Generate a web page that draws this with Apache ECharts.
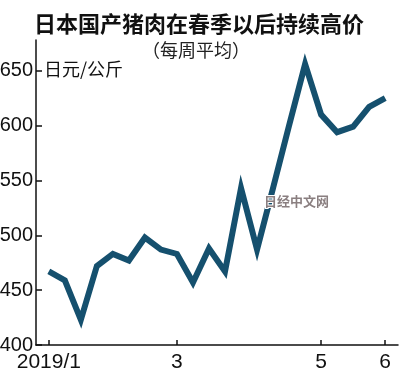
<!DOCTYPE html>
<html><head><meta charset="utf-8">
<script src="https://cdn.jsdelivr.net/npm/echarts@6/dist/echarts.min.js"></script>
<style>html,body{margin:0;padding:0;background:#fff}#c{width:400px;height:380px}</style>
</head><body><div id="c"></div>
<script>
const title = '日本国产猪肉在春季以后持续高价';
const subtitle = '（每周平均）';
const unit = '日元/公斤';
const watermark = '日经中文网';
// weekly average prices (yen/kg), Jan 2019 - Jun 2019
const prices = [467, 459, 423, 472, 483, 477, 498, 487, 483, 457, 488, 467, 543, 487, 543, 600, 656, 610, 594, 599, 617, 625];
// x tick positions (week index) and their labels
const xTickIdx = [0, 8, 17, 21];
const xTickLabels = ['2019/1', '3', '5', '6'];
const yTicks = [400, 450, 500, 550, 600, 650];

const numFont = '"Liberation Sans Narrow","Liberation Sans",sans-serif';
const cjkFont = '"Noto Sans CJK SC",sans-serif';
const chart = echarts.init(document.getElementById('c'));
chart.setOption({
  animation: false,
  backgroundColor: '#fff',
  grid: {left: 36, right: 2, top: 40, bottom: 35, containLabel: false, outerBoundsMode: 'none'},
  title: [
    {text: title, left: 29, top: 8, textStyle: {fontFamily: cjkFont, fontSize: 22, fontWeight: 'bold', color: '#111'}},
    {text: subtitle, left: 191, textAlign: 'center', top: 36, textStyle: {fontFamily: cjkFont, fontSize: 18, fontWeight: 'normal', color: '#222'}}
  ],
  graphic: [
    {type: 'text', left: 44, top: 60, style: {text: unit, font: '18px "Noto Sans CJK SC",sans-serif', fill: '#111'}},
    {type: 'text', left: 263, top: 194, z: 100, style: {text: watermark, font: 'bold 13px "Noto Sans CJK SC",sans-serif', fill: '#8a7f80', stroke: '#fff', lineWidth: 2}}
  ],
  xAxis: {
    type: 'value', min: -0.8, max: 21.8,
    axisLine: {show: true, onZero: false, lineStyle: {color: '#111', width: 1.5}},
    axisTick: {show: true, inside: true, length: 5, customValues: xTickIdx, lineStyle: {color: '#111', width: 1.5}},
    axisLabel: {show: true, customValues: xTickIdx, margin: 7, fontFamily: numFont, fontSize: 21, color: '#111',
      formatter: v => xTickLabels[xTickIdx.indexOf(Math.round(v))] || ''},
    splitLine: {show: false}
  },
  yAxis: {
    type: 'value', min: 400, max: 678,
    axisLine: {show: true, onZero: false, lineStyle: {color: '#111', width: 1.5}},
    axisTick: {show: true, inside: true, length: 6, customValues: yTicks, lineStyle: {color: '#111', width: 1.5}},
    axisLabel: {show: true, customValues: yTicks, margin: 3, fontFamily: numFont, fontSize: 20, color: '#111'},
    splitLine: {show: false}
  },
  series: [{
    type: 'line',
    data: prices.map((p, i) => [i, p]),
    symbol: 'none',
    lineStyle: {color: '#15506e', width: 6, join: 'miter'},
    z: 3
  }]
});
</script></body></html>
